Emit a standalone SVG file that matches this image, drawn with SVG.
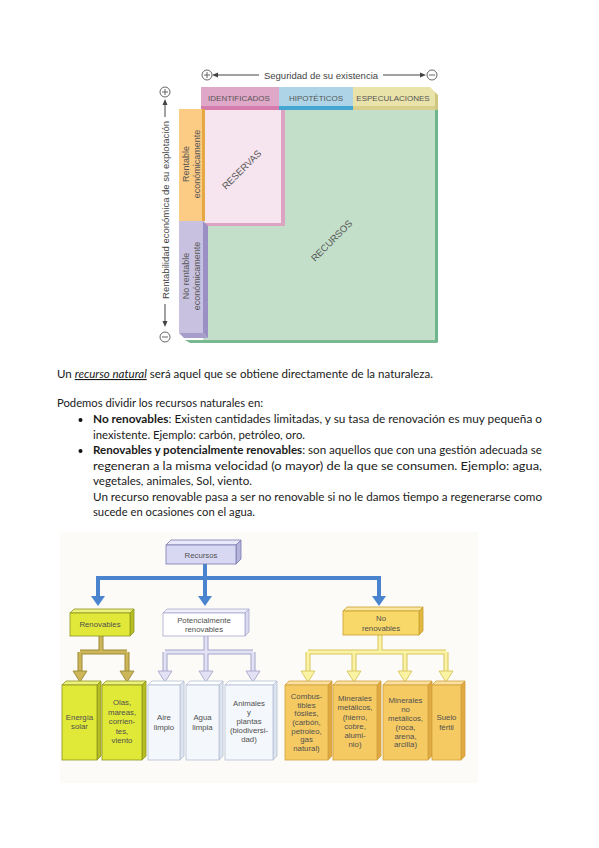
<svg xmlns="http://www.w3.org/2000/svg" width="599" height="848" viewBox="0 0 599 848">
<style>
.s{font-family:"Liberation Sans",Arial,sans-serif}
.ax{font-size:9.5px;fill:#444}
.hd{font-size:8px;fill:#555;text-anchor:middle}
.cl{font-size:9px;fill:#555;text-anchor:middle}
.dg{font-size:9.5px;fill:#555;text-anchor:middle}
.body{font-family:Lato,"Liberation Sans",sans-serif;font-size:11px;fill:#1a1a1a}
.b{font-weight:bold}
.lab{font-family:"Liberation Sans",Arial,sans-serif;font-size:7.8px;fill:#505050;text-anchor:middle}
.sym{fill:none;stroke:#555;stroke-width:0.9}
.axl{stroke:#444;stroke-width:1}
</style>
<rect width="599" height="848" fill="#ffffff"/>

<!-- ===== Top diagram ===== -->
<g id="top-axis">
  <g class="sym"><circle cx="207" cy="75" r="5"/><path d="M204,75H210M207,72V78"/></g>
  <line class="axl" x1="216" y1="75" x2="259" y2="75"/>
  <polygon points="212,75 218,72.5 218,77.5" fill="#444"/>
  <text class="s ax" x="321" y="78.5" text-anchor="middle">Seguridad de su existencia</text>
  <line class="axl" x1="383" y1="75" x2="422" y2="75"/>
  <polygon points="426,75 420,72.5 420,77.5" fill="#444"/>
  <g class="sym"><circle cx="432" cy="75" r="5"/><path d="M429,75H435"/></g>
</g>
<g id="left-axis">
  <g class="sym"><circle cx="165" cy="92" r="5"/><path d="M162,92H168M165,89V95"/></g>
  <line class="axl" x1="165" y1="103" x2="165" y2="117"/>
  <polygon points="165,99 162.5,105 167.5,105" fill="#444"/>
  <text class="s ax" transform="translate(168.5,210) rotate(-90)" text-anchor="middle">Rentabilidad económica de su explotación</text>
  <line class="axl" x1="165" y1="304" x2="165" y2="323"/>
  <polygon points="165,327 162.5,321 167.5,321" fill="#444"/>
  <g class="sym"><circle cx="165" cy="337" r="5"/><path d="M162,337H168"/></g>
</g>
<g id="recursos-area">
  <rect x="203" y="108" width="232" height="232" fill="#c3dfca"/>
  <rect x="435" y="110" width="3" height="232" fill="#6db58a"/>
  <polygon points="185,340 435,340 438,343 190,343" fill="#79b991"/>
  <text class="s dg" transform="translate(334,243) rotate(-45)">RECURSOS</text>
</g>
<g id="identificados">
  <rect x="201" y="87" width="78" height="20" fill="#e0a8c8"/>
  <rect x="201" y="106" width="78" height="4" fill="#d57cad"/>
  <text class="s hd" x="239" y="101">IDENTIFICADOS</text>
</g>
<g id="hipoteticos">
  <rect x="279" y="87" width="74" height="20" fill="#add5e7"/>
  <polygon points="279,106 353,106 358,110 279,110" fill="#45a6d2"/>
  <text class="s hd" x="316" y="101">HIPOTÉTICOS</text>
</g>
<g id="especulaciones">
  <polygon points="353,87 430,87 435,92 435,107 353,107" fill="#e9e3a9"/>
  <polygon points="430,87 435,92 438,95 438,110 435,110 435,92" fill="#cfc680"/>
  <rect x="353" y="106" width="82" height="4" fill="#d9d08e"/>
  <text class="s hd" x="393" y="101">ESPECULACIONES</text>
</g>
<g id="reservas">
  <rect x="204" y="110" width="77" height="113" fill="#f6e4ee"/>
  <rect x="281" y="110" width="4" height="116" fill="#dca4c2"/>
  <rect x="204" y="223" width="81" height="3" fill="#dca4c2"/>
  <text class="s dg" transform="translate(244,172) rotate(-45)">RESERVAS</text>
</g>
<g id="rentable">
  <rect x="179" y="109" width="23" height="112" fill="#fccb84"/>
  <rect x="202" y="109" width="3" height="112" fill="#e6a842"/>
  <text class="s cl" transform="translate(188.5,164) rotate(-90)">Rentable</text>
  <text class="s cl" transform="translate(199.5,164) rotate(-90)">económicamente</text>
</g>
<g id="no-rentable">
  <rect x="179" y="221" width="24" height="112" fill="#c8c2e0"/>
  <polygon points="203,221 208,226 208,338 203,333" fill="#9a90c4"/>
  <polygon points="179,333 203,333 208,338 184,338" fill="#a69dca"/>
  <text class="s cl" transform="translate(188.5,276) rotate(-90)">No rentable</text>
  <text class="s cl" transform="translate(199.5,276) rotate(-90)">económicamente</text>
</g>

<!-- ===== Text ===== -->
<g id="texto" class="body">
  <text x="57" y="378" textLength="376" lengthAdjust="spacingAndGlyphs">Un <tspan font-style="italic" text-decoration="underline">recurso natural</tspan> será aquel que se obtiene directamente de la naturaleza.</text>
  <text x="57" y="407" textLength="206" lengthAdjust="spacingAndGlyphs">Podemos dividir los recursos naturales en:</text>
  <circle cx="80.5" cy="420" r="2" fill="#111"/>
  <text x="93" y="423" textLength="449" lengthAdjust="spacingAndGlyphs"><tspan class="b">No renovables</tspan>: Existen cantidades limitadas, y su tasa de renovación es muy pequeña o</text>
  <text x="93" y="439" textLength="212" lengthAdjust="spacingAndGlyphs">inexistente. Ejemplo: carbón, petróleo, oro.</text>
  <circle cx="80.5" cy="451" r="2" fill="#111"/>
  <text x="93" y="454" textLength="449" lengthAdjust="spacingAndGlyphs"><tspan class="b">Renovables y potencialmente renovables</tspan>: son aquellos que con una gestión adecuada se</text>
  <text x="93" y="470" textLength="449" lengthAdjust="spacingAndGlyphs">regeneran a la misma velocidad (o mayor) de la que se consumen. Ejemplo: agua,</text>
  <text x="93" y="485" textLength="159" lengthAdjust="spacingAndGlyphs">vegetales, animales, Sol, viento.</text>
  <text x="93" y="501" textLength="449" lengthAdjust="spacingAndGlyphs">Un recurso renovable pasa a ser no renovable si no le damos tiempo a regenerarse como</text>
  <text x="93" y="516" textLength="162" lengthAdjust="spacingAndGlyphs">sucede en ocasiones con el agua.</text>
</g>

<!-- ===== Bottom diagram ===== -->
<rect x="60" y="532" width="418" height="251" fill="#fcfbf7"/>

<g id="connectors">
  <path d="M205,563V578M96,578H381M98,578V597M205,578V597M379,578V597" fill="none" stroke="#4a84cf" stroke-width="4"/>
  <polygon points="91,596 105,596 98,606" fill="#4a84cf"/>
  <polygon points="198,596 212,596 205,606" fill="#4a84cf"/>
  <polygon points="372,596 386,596 379,606" fill="#4a84cf"/>
  <g fill="none" stroke-linejoin="miter">
    <path d="M101,636V652M80,652H127M80,652V672M127,652V672" stroke="#9c8a36" stroke-width="5"/>
    <path d="M101,636V652M80,652H127M80,652V673M127,652V673" stroke="#cdb65a" stroke-width="3"/>
    <path d="M206,636V652M165,652H253M165,652V672M206,652V672M253,652V672" stroke="#a6a6cc" stroke-width="5"/>
    <path d="M206,636V652M165,652H253M165,652V673M206,652V673M253,652V673" stroke="#e2e2f4" stroke-width="3"/>
    <path d="M380,635V652M308,652H446M308,652V672M354,652V672M405,652V672M446,652V672" stroke="#d8c45c" stroke-width="5"/>
    <path d="M380,635V652M308,652H446M308,652V673M354,652V673M405,652V673M446,652V673" stroke="#fbf3a4" stroke-width="3"/>
  </g>
  <g stroke-width="0.9">
    <polygon points="73,671 87,671 80,682" fill="#cdb65a" stroke="#9c8a36"/>
    <polygon points="120,671 134,671 127,682" fill="#cdb65a" stroke="#9c8a36"/>
    <polygon points="158,671 172,671 165,682" fill="#e2e2f4" stroke="#a6a6cc"/>
    <polygon points="199,671 213,671 206,682" fill="#e2e2f4" stroke="#a6a6cc"/>
    <polygon points="246,671 260,671 253,682" fill="#e2e2f4" stroke="#a6a6cc"/>
    <polygon points="301,671 315,671 308,682" fill="#fbf3a4" stroke="#d8c45c"/>
    <polygon points="347,671 361,671 354,682" fill="#fbf3a4" stroke="#d8c45c"/>
    <polygon points="398,671 412,671 405,682" fill="#fbf3a4" stroke="#d8c45c"/>
    <polygon points="439,671 453,671 446,682" fill="#fbf3a4" stroke="#d8c45c"/>
  </g>
</g>

<g id="n-recursos" stroke="#7a7ab0" stroke-width="0.8">
  <polygon points="166,545 171,540 241,540 236,545" fill="#e8e8fa"/>
  <polygon points="236,545 241,540 241,559 236,564" fill="#b4b4dc"/>
  <rect x="166" y="545" width="70" height="19" fill="#d8d8f3"/>
  <text class="lab" x="201" y="557.5" stroke="none" font-size="8">Recursos</text>
</g>
<g id="n-renovables" stroke="#8c9420" stroke-width="0.8">
  <polygon points="70,613 74,609 134,609 130,613" fill="#eef07c"/>
  <polygon points="130,613 134,609 134,632 130,636" fill="#b6be22"/>
  <rect x="70" y="613" width="60" height="23" fill="#e2e83a"/>
  <text class="lab" x="100" y="627" stroke="none">Renovables</text>
</g>
<g id="n-potencialmente" stroke="#a8a8d0" stroke-width="0.8">
  <polygon points="163,613 167,609 249,609 245,613" fill="#f0f0fa"/>
  <polygon points="245,613 249,609 249,632 245,636" fill="#dadaf0"/>
  <rect x="163" y="613" width="82" height="23" fill="#ffffff"/>
  <text class="lab" x="204" y="622.5" stroke="none">Potencialmente</text>
  <text class="lab" x="204" y="632" stroke="none">renovables</text>
</g>
<g id="n-no-renovables" stroke="#c8a030" stroke-width="0.8">
  <polygon points="343,611 347,607 423,607 419,611" fill="#fbe7a0"/>
  <polygon points="419,611 423,607 423,631 419,635" fill="#e2b840"/>
  <rect x="343" y="611" width="76" height="24" fill="#f8d868"/>
  <text class="lab" x="381" y="621" stroke="none">No</text>
  <text class="lab" x="381" y="631" stroke="none">renovables</text>
</g>

<g id="n-energia-solar" stroke="#8c9420" stroke-width="0.8">
  <polygon points="62,685 66,681 101,681 97,685" fill="#eef07c"/>
  <polygon points="97,685 101,681 101,756 97,760" fill="#b6be22"/>
  <rect x="62" y="685" width="35" height="75" fill="#e0e838"/>
  <g stroke="none"><text class="lab" x="79.5" y="720">Energía</text><text class="lab" x="79.5" y="729">solar</text></g>
</g>
<g id="n-olas" stroke="#8c9420" stroke-width="0.8">
  <polygon points="102,685 106,681 146,681 142,685" fill="#eef07c"/>
  <polygon points="142,685 146,681 146,756 142,760" fill="#b6be22"/>
  <rect x="102" y="685" width="40" height="75" fill="#e0e838"/>
  <g stroke="none"><text class="lab" x="122" y="705">Olas,</text><text class="lab" x="122" y="714.5">mareas,</text><text class="lab" x="122" y="724">corrien-</text><text class="lab" x="122" y="733.5">tes,</text><text class="lab" x="122" y="743">viento</text></g>
</g>
<g id="n-aire" stroke="#b4c0d6" stroke-width="0.8">
  <polygon points="148,685 152,681 184,681 180,685" fill="#ffffff"/>
  <polygon points="180,685 184,681 184,756 180,760" fill="#dde4ee"/>
  <rect x="148" y="685" width="32" height="75" fill="#f4f7fb"/>
  <g stroke="none"><text class="lab" x="164" y="720">Aire</text><text class="lab" x="164" y="729.5">limpio</text></g>
</g>
<g id="n-agua" stroke="#b4c0d6" stroke-width="0.8">
  <polygon points="186,685 190,681 223,681 219,685" fill="#ffffff"/>
  <polygon points="219,685 223,681 223,756 219,760" fill="#dde4ee"/>
  <rect x="186" y="685" width="33" height="75" fill="#f4f7fb"/>
  <g stroke="none"><text class="lab" x="202.5" y="720">Agua</text><text class="lab" x="202.5" y="729.5">limpia</text></g>
</g>
<g id="n-animales" stroke="#b4c0d6" stroke-width="0.8">
  <polygon points="225,685 229,681 277,681 273,685" fill="#ffffff"/>
  <polygon points="273,685 277,681 277,756 273,760" fill="#dde4ee"/>
  <rect x="225" y="685" width="48" height="75" fill="#f4f7fb"/>
  <g stroke="none"><text class="lab" x="249" y="706">Animales</text><text class="lab" x="249" y="715">y</text><text class="lab" x="249" y="724">plantas</text><text class="lab" x="249" y="733">(biodiversi-</text><text class="lab" x="249" y="742">dad)</text></g>
</g>
<g id="n-combustibles" stroke="#d2a040" stroke-width="0.8">
  <polygon points="285,685 289,681 332,681 328,685" fill="#fbe1a0"/>
  <polygon points="328,685 332,681 332,756 328,760" fill="#e0aa40"/>
  <rect x="285" y="685" width="43" height="75" fill="#f6ca62"/>
  <g stroke="none"><text class="lab" x="306.5" y="699">Combus-</text><text class="lab" x="306.5" y="707.5">tibles</text><text class="lab" x="306.5" y="716">fósiles,</text><text class="lab" x="306.5" y="725">(carbón,</text><text class="lab" x="306.5" y="733.5">petroleo,</text><text class="lab" x="306.5" y="742">gas</text><text class="lab" x="306.5" y="751">natural)</text></g>
</g>
<g id="n-metalicos" stroke="#d2a040" stroke-width="0.8">
  <polygon points="333,685 337,681 381,681 377,685" fill="#fbe1a0"/>
  <polygon points="377,685 381,681 381,756 377,760" fill="#e0aa40"/>
  <rect x="333" y="685" width="44" height="75" fill="#f6ca62"/>
  <g stroke="none"><text class="lab" x="355" y="701">Minerales</text><text class="lab" x="355" y="710">metálicos,</text><text class="lab" x="355" y="719.5">(hierro,</text><text class="lab" x="355" y="729">cobre,</text><text class="lab" x="355" y="738">alumi-</text><text class="lab" x="355" y="747">nio)</text></g>
</g>
<g id="n-no-metalicos" stroke="#d2a040" stroke-width="0.8">
  <polygon points="383,685 387,681 432,681 428,685" fill="#fbe1a0"/>
  <polygon points="428,685 432,681 432,756 428,760" fill="#e0aa40"/>
  <rect x="383" y="685" width="45" height="75" fill="#f6ca62"/>
  <g stroke="none"><text class="lab" x="405.5" y="703">Minerales</text><text class="lab" x="405.5" y="711.5">no</text><text class="lab" x="405.5" y="720.5">metálicos,</text><text class="lab" x="405.5" y="729.5">(roca,</text><text class="lab" x="405.5" y="738.5">arena,</text><text class="lab" x="405.5" y="747">arcilla)</text></g>
</g>
<g id="n-suelo" stroke="#d2a040" stroke-width="0.8">
  <polygon points="432,685 436,681 465,681 461,685" fill="#fbe1a0"/>
  <polygon points="461,685 465,681 465,756 461,760" fill="#e0aa40"/>
  <rect x="432" y="685" width="29" height="75" fill="#f6ca62"/>
  <g stroke="none"><text class="lab" x="446.5" y="720">Suelo</text><text class="lab" x="446.5" y="729.5">fértil</text></g>
</g>
</svg>
